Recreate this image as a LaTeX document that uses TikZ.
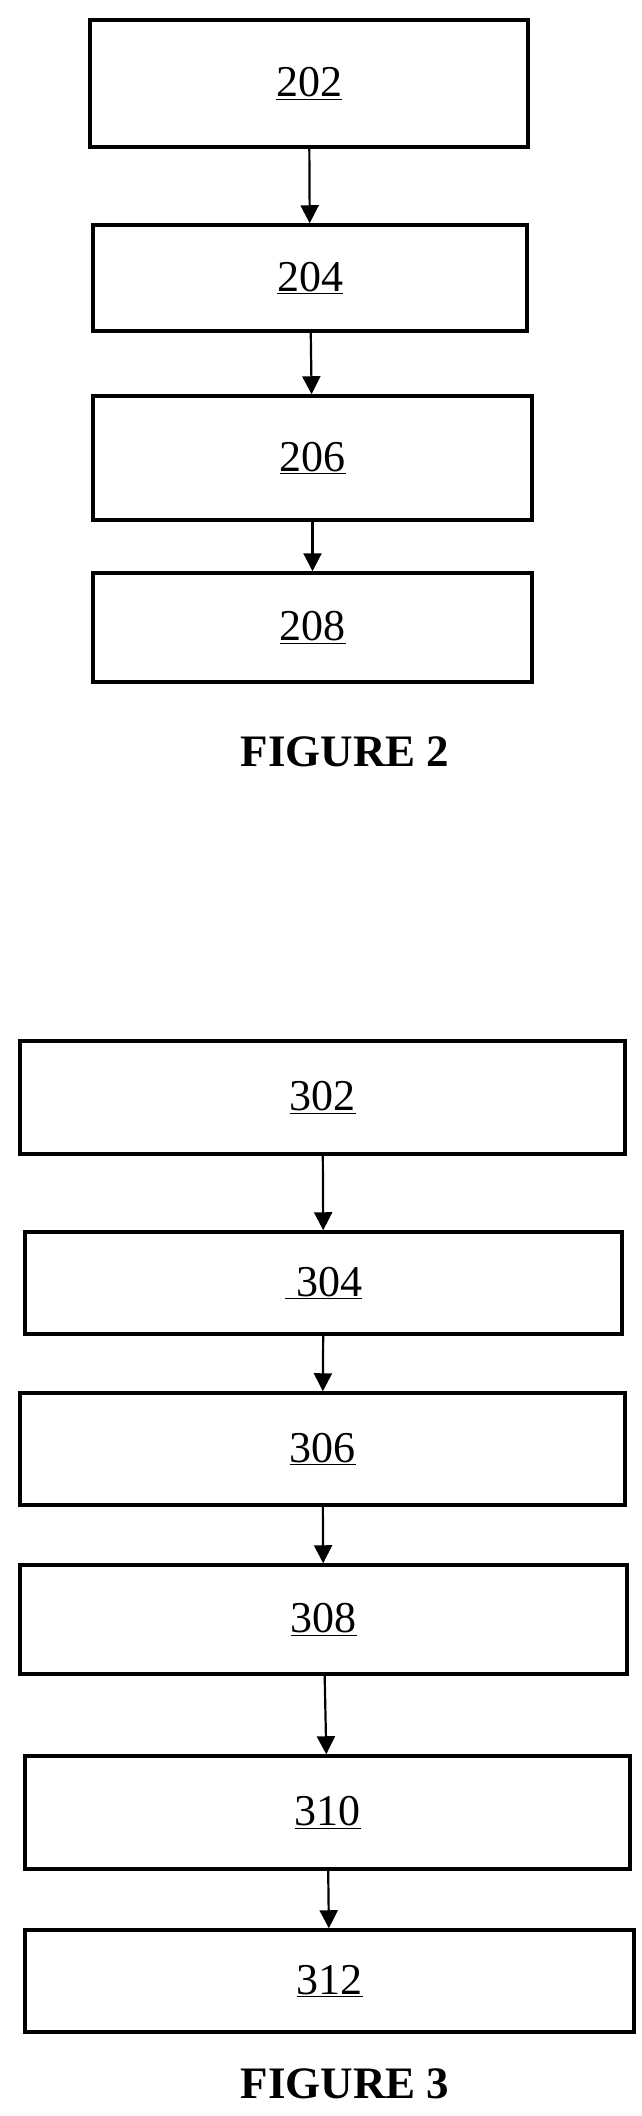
\documentclass[tikz,border=0pt]{standalone}
\usepackage{fontspec}
\setmainfont{Liberation Serif}
\usetikzlibrary{arrows.meta}
\tikzset{
	stepbox/.style={draw,line width=3.5pt,inner sep=0pt,font=\fontsize{44}{48}\selectfont},
	flow/.style={-{Triangle[length=18pt,width=18pt]},line width=2.2pt},
	figlabel/.style={font=\bfseries\fontsize{45}{50}\selectfont}
}
\newcommand{\boxat}[6]{% name, x1, y1, x2, y2, text
	\node[stepbox,minimum width=#4pt-#2pt,minimum height=#5pt-#3pt] (#1) at ({(#2+#4)/2*1pt},{-(#3+#5)/2*1pt}) {\underline{#6}};}
\begin{document}
\begin{tikzpicture}
	\useasboundingbox (0,0) rectangle (641pt,-2116pt);
	% figure 2
	\boxat{b202}{90}{20}{528}{147}{202}
	\boxat{b204}{93}{225}{527}{331}{204}
	\boxat{b206}{93}{396}{532}{520}{206}
	\boxat{b208}{93}{573}{532}{682}{208}
	\draw[flow] (b202) -- (b204);
	\draw[flow] (b204) -- (b206);
	\draw[flow] (b206) -- (b208);
	\node[figlabel] (fig2) at (345pt,-752pt) {FIGURE 2};
	% figure 3
	\boxat{b302}{20}{1041}{625}{1154}{302}
	\boxat{b304}{25}{1232}{622}{1334}{\ 304}
	\boxat{b306}{20}{1393}{625}{1505}{306}
	\boxat{b308}{20}{1565}{627}{1674}{308}
	\boxat{b310}{25}{1756}{630}{1869}{310}
	\boxat{b312}{25}{1930}{634}{2032}{312}
	\draw[flow] (b302) -- (b304);
	\draw[flow] (b304) -- (b306);
	\draw[flow] (b306) -- (b308);
	\draw[flow] (b308) -- (b310);
	\draw[flow] (b310) -- (b312);
	\node[figlabel] (fig3) at (345pt,-2084pt) {FIGURE 3};
\end{tikzpicture}
\end{document}
